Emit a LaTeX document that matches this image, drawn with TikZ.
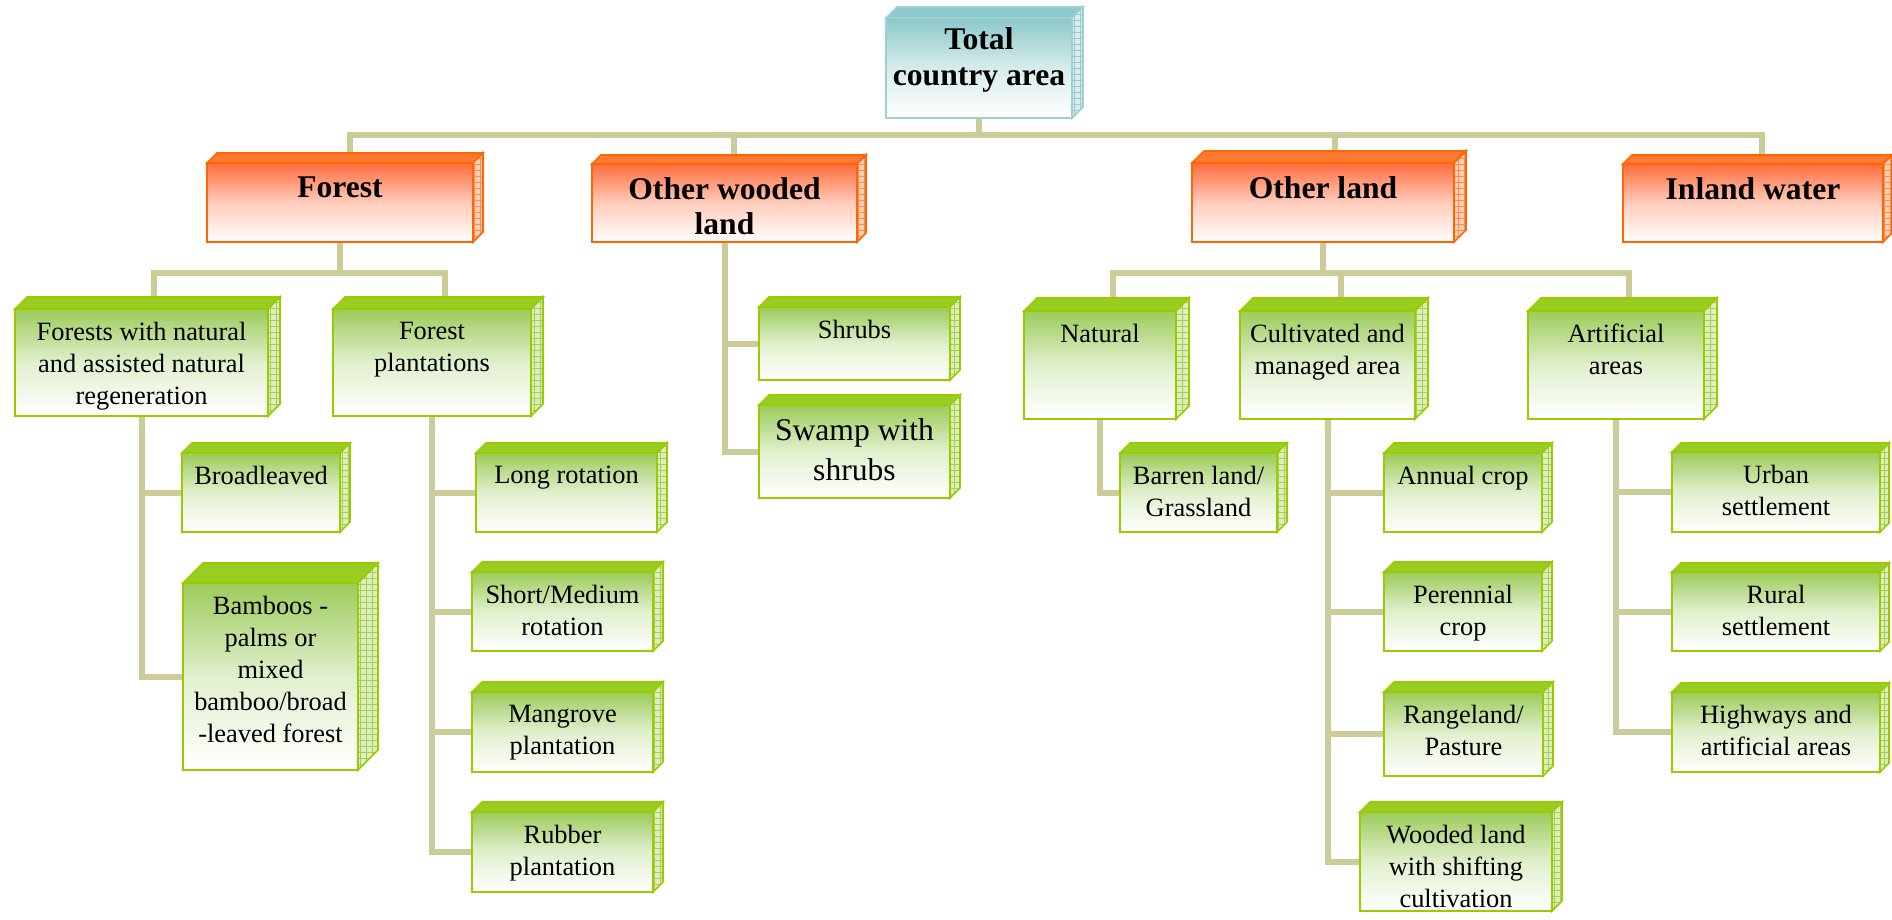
\documentclass[tikz,border=0pt]{standalone}
\usepackage{fontspec}
\setmainfont{Liberation Serif}
\usetikzlibrary{fit,backgrounds,patterns}

\definecolor{linkc}{HTML}{CCCC99}
\definecolor{gline}{HTML}{99CC00}
\definecolor{gtop}{HTML}{9CCB5A}
\definecolor{gface}{HTML}{9ACD22}
\definecolor{gside}{HTML}{DDEEB8}
\definecolor{ggrid}{HTML}{A6CC66}
\definecolor{oline}{HTML}{FF6600}
\definecolor{otop}{HTML}{FF6D3D}
\definecolor{oface}{HTML}{FF7A30}
\definecolor{oside}{HTML}{FFCDB0}
\definecolor{ogrid}{HTML}{F09060}
\definecolor{tline}{HTML}{9FD0D0}
\definecolor{ttop}{HTML}{8CC8C8}
\definecolor{tface}{HTML}{8FCACA}
\definecolor{tside}{HTML}{D8ECEC}
\definecolor{tgrid}{HTML}{9CCACA}

\newcommand{\greenfont}{\fontsize{13.2}{16}\selectfont}
\newcommand{\swampfont}{\fontsize{15.8}{20}\selectfont}
\newcommand{\orangefont}{\bfseries\fontsize{15.8}{17.5}\selectfont}
\newcommand{\totalfont}{\bfseries\fontsize{15.8}{18.3}\selectfont}

\begin{document}
\begin{tikzpicture}[x=0.5pt, y=-0.5pt,
    block/.style={inner sep=0pt, outer sep=0pt, line width=1.2pt},
    greenbox/.style={block, draw=gline, top color=gtop, bottom color=white, middle color=gtop!30!white},
    orangebox/.style={block, draw=oline, top color=otop, bottom color=white, middle color=otop!35!white},
    totalbox/.style={block, draw=tline, top color=ttop, bottom color=white, middle color=ttop!35!white},
    lbl/.style={anchor=north, align=center, inner xsep=0pt, inner ysep=6.5pt},
    gtext/.style={label={[lbl, font=\greenfont]north:{#1}}},
    swtext/.style={label={[lbl, font=\swampfont]north:{#1}}},
    otext/.style={label={[lbl, font=\orangefont]north:{#1}}},
    ttext/.style={label={[lbl, inner ysep=4.5pt, font=\totalfont]north:{#1}}},
    link/.style={draw=linkc, line width=3pt},
    gtopface/.style={draw=gline, line width=0.8pt, fill=gface},
    gsideface/.style={draw=gline, line width=0.8pt, preaction={fill=gside}, pattern=grid, pattern color=ggrid},
    otopface/.style={draw=oline, line width=0.8pt, fill=oface},
    osideface/.style={draw=oline, line width=0.8pt, preaction={fill=oside}, pattern=grid, pattern color=ogrid},
    ttopface/.style={draw=tline, line width=0.8pt, fill=tface},
    tsideface/.style={draw=tline, line width=0.8pt, preaction={fill=tside}, pattern=grid, pattern color=tgrid}]
  \useasboundingbox (0,0) rectangle (1892,920);

  % Top
  \node[totalbox, fit={(886,18) (1072,118)}, ttext={Total\\country area}] (total) {};

  % Main classes
  \node[orangebox, fit={(207,163) (473,242)}, otext={Forest}] (forest) {};
  \node[orangebox, fit={(592,164) (857,242)}, otext={Other wooded\\land}] (owl) {};
  \node[orangebox, fit={(1192,163) (1454,242)}, otext={Other land}] (oland) {};
  \node[orangebox, fit={(1623,164) (1883,242)}, otext={Inland water}] (water) {};

  % Forest
  \node[greenbox, fit={(15,309) (268,416)}, gtext={Forests with natural\\and assisted natural\\regeneration}] (forwith) {};
  \node[greenbox, fit={(333,309) (531,416)}, gtext={Forest\\plantations}] (plant) {};
  \node[greenbox, fit={(182,453) (340,532)}, gtext={Broadleaved}] (broad) {};
  \node[greenbox, fit={(183,583) (358,770)}, gtext={Bamboos -\\palms or\\mixed\\bamboo/broad\\-leaved forest}] (bamboo) {};
  \node[greenbox, fit={(476,453) (657,532)}, gtext={Long rotation}] (long) {};
  \node[greenbox, fit={(472,572) (653,651)}, gtext={Short/Medium\\rotation}] (short) {};
  \node[greenbox, fit={(472,692) (653,772)}, gtext={Mangrove\\plantation}] (mangrove) {};
  \node[greenbox, fit={(472,812) (653,892)}, gtext={Rubber\\plantation}] (rubber) {};

  % Other wooded land
  \node[greenbox, fit={(759,307) (950,380)}, gtext={Shrubs}] (shrubs) {};
  \node[greenbox, fit={(759,405) (950,498)}, swtext={Swamp with\\shrubs}] (swamp) {};

  % Other land
  \node[greenbox, fit={(1024,311) (1176,419)}, gtext={Natural}] (natural) {};
  \node[greenbox, fit={(1240,311) (1415,419)}, gtext={Cultivated and\\managed area}] (cultiv) {};
  \node[greenbox, fit={(1528,311) (1704,419)}, gtext={Artificial\\areas}] (artif) {};
  \node[greenbox, fit={(1120,453) (1277,532)}, gtext={Barren land/\\Grassland}] (barren) {};
  \node[greenbox, fit={(1384,453) (1542,532)}, gtext={Annual crop}] (annual) {};
  \node[greenbox, fit={(1384,572) (1542,651)}, gtext={Perennial\\crop}] (perennial) {};
  \node[greenbox, fit={(1384,692) (1543,776)}, gtext={Rangeland/\\Pasture}] (range) {};
  \node[greenbox, fit={(1360,812) (1552,911)}, gtext={Wooded land\\with shifting\\cultivation}] (wooded) {};
  \node[greenbox, fit={(1672,452) (1880,532)}, gtext={Urban\\settlement}] (urban) {};
  \node[greenbox, fit={(1672,572) (1880,651)}, gtext={Rural\\settlement}] (rural) {};
  \node[greenbox, fit={(1672,692) (1880,772)}, gtext={Highways and\\artificial areas}] (highways) {};

  % 3D faces
  \path[ttopface] (total.north west) -- ++(11,-11) -- ([shift={(11,-11)}]total.north east) -- (total.north east) -- cycle;
  \path[tsideface] (total.north east) -- ++(11,-11) -- ([shift={(11,-11)}]total.south east) -- (total.south east) -- cycle;
  \foreach \n/\d in {forest/10, owl/9, oland/12, water/9} {
    \path[otopface] (\n.north west) -- ++(\d,-\d) -- ([shift={(\d,-\d)}]\n.north east) -- (\n.north east) -- cycle;
    \path[osideface] (\n.north east) -- ++(\d,-\d) -- ([shift={(\d,-\d)}]\n.south east) -- (\n.south east) -- cycle;
  }
  \foreach \n/\d in {forwith/12, plant/12, natural/13, cultiv/13, artif/13, broad/10, bamboo/20,
      long/10, short/10, mangrove/10, rubber/10, shrubs/10, swamp/10, barren/10, annual/10,
      perennial/10, range/10, wooded/10, urban/9, rural/9, highways/9} {
    \path[gtopface] (\n.north west) -- ++(\d,-\d) -- ([shift={(\d,-\d)}]\n.north east) -- (\n.north east) -- cycle;
    \path[gsideface] (\n.north east) -- ++(\d,-\d) -- ([shift={(\d,-\d)}]\n.south east) -- (\n.south east) -- cycle;
  }

  % Connectors
  \begin{scope}[on background layer]
    \draw[link] (total.south) -- ++(0,17) coordinate (bus);
    \draw[link] ([shift={(10,0)}]forest.north) |- (bus) -| ([shift={(9,0)}]water.north);
    \draw[link] ([shift={(9,0)}]owl.north) |- (bus);
    \draw[link] ([shift={(12,0)}]oland.north) |- (bus);

    \draw[link] (forest.south) -- ++(0,31) coordinate (fbus);
    \draw[link] ([shift={(12,0)}]forwith.north) |- (fbus) -| ([shift={(13,0)}]plant.north);
    \draw[link] (oland.south) -- ++(0,31) coordinate (obus);
    \draw[link] ([shift={(13,0)}]natural.north) |- (obus) -| ([shift={(13,0)}]artif.north);
    \draw[link] ([shift={(13,0)}]cultiv.north) |- (obus);

    \foreach \c in {broad, bamboo} \draw[link] (forwith.south) |- (\c.west);
    \foreach \c in {long, short, mangrove, rubber} \draw[link] (plant.south) |- (\c.west);
    \foreach \c in {shrubs, swamp} \draw[link] (owl.south) |- (\c.west);
    \draw[link] (natural.south) |- (barren.west);
    \foreach \c in {annual, perennial, range, wooded} \draw[link] (cultiv.south) |- (\c.west);
    \foreach \c in {urban, rural, highways} \draw[link] (artif.south) |- (\c.west);
  \end{scope}
\end{tikzpicture}
\end{document}
